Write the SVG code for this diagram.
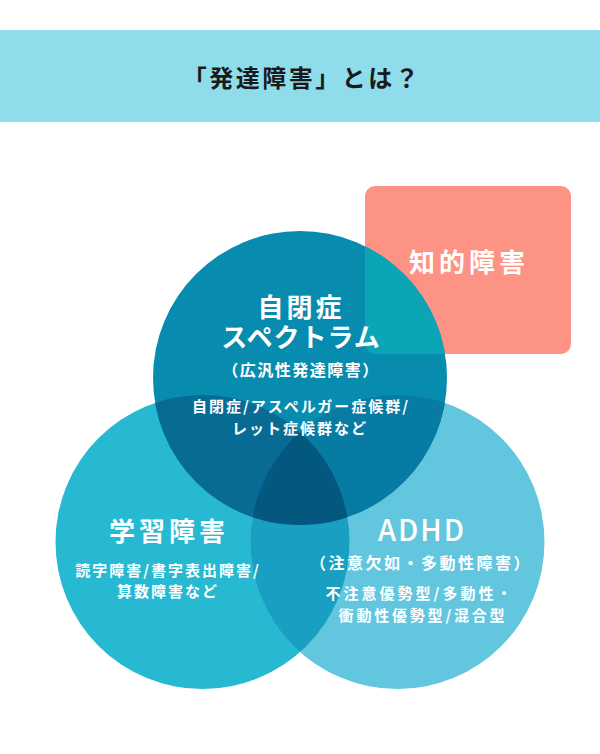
<svg xmlns="http://www.w3.org/2000/svg" width="600" height="754" viewBox="0 0 600 754">
<style>
text{font-family:"Noto Sans CJK JP","Noto Sans",sans-serif;font-weight:700;fill:#fff;text-anchor:middle}
.big{font-size:26px;letter-spacing:4px}
.sm{font-size:15px;letter-spacing:2px}
</style>
<defs>
<clipPath id="cTop"><circle cx="300" cy="378" r="147"/></clipPath>
<clipPath id="cLeft"><circle cx="202.5" cy="542" r="147"/></clipPath>
<clipPath id="cRight"><circle cx="397.5" cy="542" r="147"/></clipPath>
</defs>
<rect x="0" y="0" width="600" height="754" fill="#fff"/>
<g id="header">
<rect x="0" y="30" width="600" height="92" fill="#8fdcea"/>
<text x="302" y="87" style="font-size:24px;letter-spacing:2.5px;fill:#1a1a1a">「発達障害」とは？</text>
</g>
<g id="intellectual-box">
<rect x="365" y="186" width="206" height="168" rx="10" fill="#fc9384"/>
</g>
<g id="shapes">
<circle cx="202.5" cy="542" r="147" fill="#27b8d2"/>
<circle cx="397.5" cy="542" r="147" fill="#62c6df"/>
<circle cx="300" cy="378" r="147" fill="#078cb0"/>
<g clip-path="url(#cLeft)"><circle cx="397.5" cy="542" r="147" fill="#189fc2"/></g>
<g clip-path="url(#cTop)"><circle cx="202.5" cy="542" r="147" fill="#076b94"/></g>
<g clip-path="url(#cTop)"><circle cx="397.5" cy="542" r="147" fill="#087ba4"/></g>
<g clip-path="url(#cTop)"><g clip-path="url(#cLeft)"><circle cx="397.5" cy="542" r="147" fill="#04577f"/></g></g>
<g clip-path="url(#cTop)"><rect x="365" y="186" width="206" height="168" rx="10" fill="#0ba5b6"/></g>
</g>
<g id="node-intellectual">
<text class="big" x="469" y="272">知的障害</text>
</g>
<g id="node-asd">
<text x="301" y="317" style="font-size:26px;letter-spacing:3px">自閉症</text>
<text x="301" y="347" style="font-size:26px;letter-spacing:1px">スペクトラム</text>
<text x="301" y="376" style="font-size:16px;letter-spacing:1.5px">（広汎性発達障害）</text>
<text class="sm" x="301" y="412">自閉症/アスペルガー症候群/</text>
<text class="sm" x="300" y="434">レット症候群など</text>
</g>
<g id="node-ld">
<text class="big" x="169" y="541">学習障害</text>
<text class="sm" x="168" y="576">読字障害/書字表出障害/</text>
<text class="sm" x="168" y="597">算数障害など</text>
</g>
<g id="node-adhd">
<text x="422" y="541" style="font-size:29px;letter-spacing:2px;font-weight:500">ADHD</text>
<text x="421" y="569" style="font-size:16px;letter-spacing:2.5px">（注意欠如・多動性障害）</text>
<text x="420" y="599" style="font-size:15px;letter-spacing:3px">不注意優勢型/多動性・</text>
<text x="423" y="621" style="font-size:15px;letter-spacing:2.8px">衝動性優勢型/混合型</text>
</g>
</svg>
